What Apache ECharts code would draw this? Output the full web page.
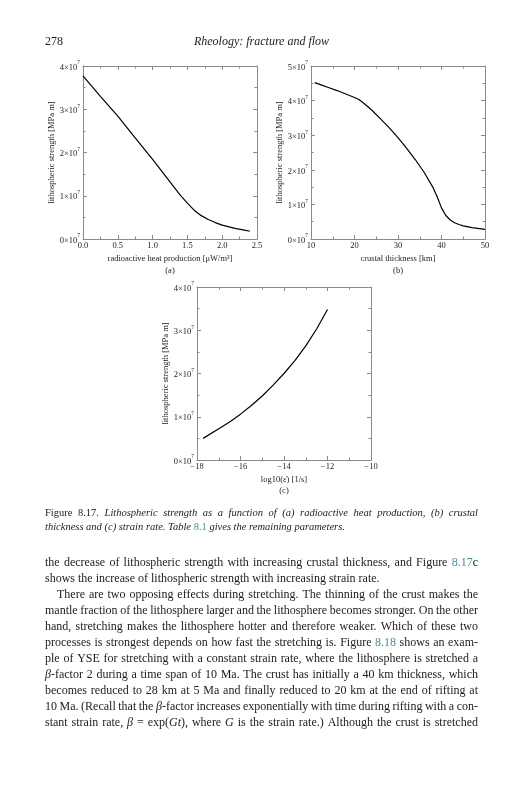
<!DOCTYPE html>
<html>
<head>
<meta charset="utf-8">
<script src="https://cdn.jsdelivr.net/npm/echarts@6/dist/echarts.min.js"></script>
<style>
  html, body { margin: 0; padding: 0; background: #fff; }
  #chart { width: 532px; height: 800px; }
</style>
</head>
<body>
<div id="chart"></div>
<script>
// values in units of 10^7 MPa m
const heatX = [0, 0.25, 0.5, 0.75, 1.0, 1.25, 1.4, 1.5, 1.6, 1.7, 1.8, 1.9, 2.0, 2.1, 2.2, 2.3, 2.4];
const heatY = [3.77, 3.30, 2.84, 2.34, 1.84, 1.32, 1.01, 0.83, 0.66, 0.54, 0.45, 0.38, 0.32, 0.28, 0.24, 0.21, 0.18];

const crustX = [10.85, 12, 14, 16, 18, 20, 21, 22, 24, 26, 28, 30, 32, 34, 36, 38, 39, 40, 41, 42, 43, 44, 45, 47, 50];
const crustY = [4.52, 4.47, 4.38, 4.29, 4.19, 4.09, 4.03, 3.94, 3.72, 3.47, 3.21, 2.93, 2.62, 2.29, 1.93, 1.50, 1.22, 0.90, 0.68, 0.55, 0.47, 0.42, 0.38, 0.33, 0.28];

const rateX = [-17.72, -17, -16.5, -16, -15.5, -15, -14.5, -14, -13.5, -13, -12.5, -12];
const rateY = [0.50, 0.72, 0.88, 1.06, 1.26, 1.48, 1.73, 2.00, 2.30, 2.64, 3.03, 3.48];

const headerLeft = '278';
const headerTitle = 'Rheology: fracture and flow';
const panelTags = ['(a)', '(b)', '(c)'];

// caption: base italic, _x_ flips style, #x# link
const captionLines = [
  '_Figure_ _8.17._ Lithospheric strength as a function of (a) radioactive heat production, (b) crustal',
  'thickness and (c) strain rate. Table #8.1# gives the remaining parameters.'
];
// body: base upright, _x_ italic, #x# link
const bodyLines = [
  'the decrease of lithospheric strength with increasing crustal thickness, and Figure #8.17#c',
  'shows the increase of lithospheric strength with increasing strain rate.',
  'There are two opposing effects during stretching. The thinning of the crust makes the',
  'mantle fraction of the lithosphere larger and the lithosphere becomes stronger. On the other',
  'hand, stretching makes the lithosphere hotter and therefore weaker. Which of these two',
  'processes is strongest depends on how fast the stretching is. Figure #8.18# shows an exam-',
  'ple of YSE for stretching with a constant strain rate, where the lithosphere is stretched a',
  '_β_-factor 2 during a time span of 10 Ma. The crust has initially a 40 km thickness, which',
  'becomes reduced to 28 km at 5 Ma and finally reduced to 20 km at the end of rifting at',
  '10 Ma. (Recall that the _β_-factor increases exponentially with time during rifting with a con-',
  'stant strain rate, _β_ = exp(_Gt_), where _G_ is the strain rate.) Although the crust is stretched'
];
const bodyJustify = [true, false, true, true, true, true, true, true, true, true, true];

const SERIF = '"Liberation Serif", "Times New Roman", serif';
const INK = '#1c1c1c';
const LINK = '#4a8e98';
const BOX = '#8a8a8a';

const chart = echarts.init(document.getElementById('chart'));

const pairs = (xs, ys) => xs.map((x, i) => [x, ys[i]]);
const minus = v => (v < 0 ? '\u2212' + Math.abs(v) : String(v));

function xAxes(gi, min, max, interval, fmt, name) {
  const base = {
    type: 'value', gridIndex: gi, min, max, interval,
    axisLine: { show: true, onZero: false, lineStyle: { color: BOX, width: 1 } },
    axisTick: { show: true, inside: true, length: 4, lineStyle: { color: BOX } },
    minorTick: { show: true, splitNumber: 2, length: 2.5, lineStyle: { color: BOX } },
    splitLine: { show: false }
  };
  return [
    Object.assign({}, base, {
      position: 'bottom',
      axisLabel: { margin: 2, fontFamily: SERIF, fontSize: 8.5, color: INK, formatter: fmt },
      name, nameLocation: 'middle', nameGap: 15,
      nameTextStyle: { fontFamily: SERIF, fontSize: 8.5, color: INK }
    }),
    Object.assign({}, base, { position: 'top', axisLabel: { show: false } })
  ];
}

function yAxes(gi, max) {
  const base = {
    type: 'value', gridIndex: gi, min: 0, max, interval: 1,
    axisLine: { show: true, onZero: false, lineStyle: { color: BOX, width: 1 } },
    axisTick: { show: true, inside: true, length: 4, lineStyle: { color: BOX } },
    minorTick: { show: true, splitNumber: 2, length: 2.5, lineStyle: { color: BOX } },
    splitLine: { show: false }
  };
  return [
    Object.assign({}, base, {
      position: 'left',
      axisLabel: {
        margin: 3, formatter: v => '{n|' + v + '×10}{s|7}',
        rich: {
          n: { fontFamily: SERIF, fontSize: 8.5, color: INK, verticalAlign: 'bottom', lineHeight: 12 },
          s: { fontFamily: SERIF, fontSize: 5.5, color: INK, verticalAlign: 'top', lineHeight: 12 }
        }
      },
      name: 'lithospheric strength [MPa m]', nameLocation: 'middle', nameGap: 27,
      nameTextStyle: { fontFamily: SERIF, fontSize: 8.5, color: INK }
    }),
    Object.assign({}, base, { position: 'right', axisLabel: { show: false } })
  ];
}

// ---- page text laid out word by word so lines can be justified
const ctx = document.createElement('canvas').getContext('2d');
const fontStr = (it, size) => (it ? 'italic ' : '') + size + 'px "Liberation Serif"';

function pieces(word, baseIt) {
  const out = [];
  let alt = false, link = false, cur = '';
  const push = () => {
    if (cur) out.push({ t: cur, it: link ? false : (alt ? !baseIt : baseIt), link });
    cur = '';
  };
  for (const ch of word) {
    if (ch === '_') { push(); alt = !alt; }
    else if (ch === '#') { push(); link = !link; }
    else cur += ch;
  }
  push();
  return out;
}

function layLine(text, o, els) {
  const words = text.split(' ').map(w => {
    const ps = pieces(w, o.italic);
    ps.forEach(p => { ctx.font = fontStr(p.it, o.size); p.w = ctx.measureText(p.t).width; });
    return { ps, w: ps.reduce((s, p) => s + p.w, 0) };
  });
  const start = o.x0 + (o.indent || 0);
  ctx.font = fontStr(o.italic, o.size);
  let gap = ctx.measureText(' ').width;
  if (o.justify && words.length > 1) {
    const sum = words.reduce((s, w) => s + w.w, 0);
    gap = (o.x1 - start - sum) / (words.length - 1);
  }
  let x = start;
  words.forEach(w => {
    w.ps.forEach(p => {
      els.push({
        type: 'text', x, y: o.y, silent: true,
        style: { text: p.t, font: fontStr(p.it, o.size), fill: p.link ? LINK : INK,
                 verticalAlign: 'middle', textVerticalAlign: 'middle' }
      });
      x += p.w;
    });
    x += gap;
  });
}

const graphics = [];
graphics.push({ type: 'text', x: 45, y: 42, silent: true,
  style: { text: headerLeft, font: fontStr(false, 12), fill: INK, verticalAlign: 'middle', textVerticalAlign: 'middle' } });
graphics.push({ type: 'text', x: 261.5, y: 42, silent: true,
  style: { text: headerTitle, font: fontStr(true, 12), fill: INK, align: 'center', textAlign: 'center',
           verticalAlign: 'middle', textVerticalAlign: 'middle' } });

const tagPos = [[170, 271], [398, 271], [284, 491]];
panelTags.forEach((t, i) => graphics.push({ type: 'text', x: tagPos[i][0], y: tagPos[i][1], silent: true,
  style: { text: t, font: fontStr(false, 8.5), fill: INK, align: 'center', textAlign: 'center',
           verticalAlign: 'middle', textVerticalAlign: 'middle' } }));

captionLines.forEach((t, i) => layLine(t, { x0: 45, x1: 478, y: 513.5 + i * 13.3, size: 10.5, italic: true, justify: i === 0 }, graphics));
bodyLines.forEach((t, i) => layLine(t, { x0: 45, x1: 478, y: 562.7 + i * 16.0, size: 12, italic: false,
  justify: bodyJustify[i], indent: i === 2 ? 12 : 0 }, graphics));

const lineSeries = (gi, data) => ({
  type: 'line', xAxisIndex: gi * 2, yAxisIndex: gi * 2, data, showSymbol: false, symbol: 'none',
  smooth: false, sampling: null, lineStyle: { color: '#000', width: 1.2 }, silent: true, animation: false
});

chart.setOption({
  animation: false,
  backgroundColor: '#fff',
  grid: [
    { left: 83, top: 66, width: 174, height: 173 },
    { left: 311, top: 66, width: 174, height: 173 },
    { left: 197, top: 287, width: 174, height: 173 }
  ],
  xAxis: [
    ...xAxes(0, 0, 2.5, 0.5, v => v.toFixed(1), 'radioactive heat production [\u03BCW/m\u00B3]'),
    ...xAxes(1, 10, 50, 10, v => String(v), 'crustal thickness [km]'),
    ...xAxes(2, -18, -10, 2, minus, 'log10(\u03B5\u0307) [1/s]')
  ],
  yAxis: [...yAxes(0, 4), ...yAxes(1, 5), ...yAxes(2, 4)],
  series: [
    lineSeries(0, pairs(heatX, heatY)),
    lineSeries(1, pairs(crustX, crustY)),
    lineSeries(2, pairs(rateX, rateY))
  ],
  graphic: graphics
});
</script>
</body>
</html>
